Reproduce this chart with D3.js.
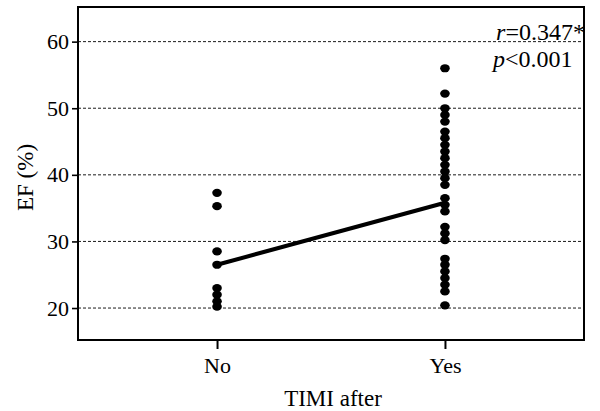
<!DOCTYPE html>
<html>
<head>
<meta charset="utf-8">
<script src="https://cdn.jsdelivr.net/npm/d3@7"></script>
<style>
    body { margin: 0; background: #fff; }
    svg text { font-family: "Liberation Serif", "Times New Roman", serif; fill: #000; }
</style>
</head>
<body>
<div id="chart"></div>
<script>
// categories and values
const categories = ['No', 'Yes'];
const efNo = [37.3, 35.3, 28.5, 26.5, 23, 22, 21, 20.2];
const efYes = [56, 52.2, 50, 49, 48, 46.5, 45.5, 44.5, 43.5, 42.5, 41.5, 40.5,
               39.5, 38.5, 36.5, 35.5, 34.5, 32.2, 31.2, 30.2,
               27.4, 26.5, 25.5, 24.5, 23.5, 22.5, 20.4];
const fitLine = [26.5, 35.8];          // regression line at No / Yes
const yTicks = [20, 30, 40, 50, 60];
const yDomain = [15.2, 65.2];
const statsText = { r: '0.347*', p: '<0.001' };

(function() {
    'use strict';

    const width = 600, height = 411;
    const left = 78, right = 584, top = 7, bottom = 340;
    const font = '"Liberation Serif", "Times New Roman", serif';

    const svg = d3.select('#chart').append('svg')
        .attr('width', width)
        .attr('height', height);

    const x = d3.scalePoint().domain(categories).range([left, right]).padding(0.61);
    const y = d3.scaleLinear().domain(yDomain).range([bottom, top]);

    // dashed grid
    svg.append('g')
        .selectAll('line')
        .data(yTicks)
        .enter()
        .append('line')
        .attr('x1', left).attr('x2', right)
        .attr('y1', d => y(d)).attr('y2', d => y(d))
        .attr('stroke', '#000')
        .attr('stroke-width', 0.9)
        .attr('stroke-dasharray', '3,2');

    // frame
    svg.append('rect')
        .attr('x', left).attr('y', top)
        .attr('width', right - left).attr('height', bottom - top)
        .attr('fill', 'none')
        .attr('stroke', '#000')
        .attr('stroke-width', 2);

    // y axis
    const yAxis = svg.append('g')
        .attr('transform', `translate(${left},0)`)
        .call(d3.axisLeft(y).tickValues(yTicks).tickSize(6).tickPadding(3));
    yAxis.attr('font-family', font);
    yAxis.select('.domain').remove();
    yAxis.selectAll('line').attr('stroke-width', 1.6);
    yAxis.selectAll('text').style('font-size', '22px');

    // x axis
    const xAxis = svg.append('g')
        .attr('transform', `translate(0,${bottom})`)
        .call(d3.axisBottom(x).tickSize(9).tickPadding(8));
    xAxis.attr('font-family', font);
    xAxis.select('.domain').remove();
    xAxis.selectAll('line').attr('stroke-width', 2);
    xAxis.selectAll('text').style('font-size', '22px');

    // axis titles
    svg.append('text')
        .attr('x', (left + right) / 2 + 2)
        .attr('y', 406)
        .attr('text-anchor', 'middle')
        .style('font-size', '23px')
        .text('TIMI after');

    svg.append('text')
        .attr('transform', `translate(33,${(top + bottom) / 2 + 4}) rotate(-90)`)
        .attr('text-anchor', 'middle')
        .style('font-size', '23px')
        .text('EF (%)');

    // regression line
    svg.append('line')
        .attr('x1', x('No')).attr('y1', y(fitLine[0]))
        .attr('x2', x('Yes')).attr('y2', y(fitLine[1]))
        .attr('stroke', '#000')
        .attr('stroke-width', 4);

    // points
    const points = efNo.map(v => ({ cat: 'No', v }))
        .concat(efYes.map(v => ({ cat: 'Yes', v })));

    svg.append('g')
        .selectAll('ellipse')
        .data(points)
        .enter()
        .append('ellipse')
        .attr('cx', d => x(d.cat))
        .attr('cy', d => y(d.v))
        .attr('rx', 4.8)
        .attr('ry', 4.1)
        .attr('fill', '#000');

    // stats annotation
    const rText = svg.append('text')
        .attr('x', right + 1).attr('y', 40)
        .attr('text-anchor', 'end')
        .style('font-size', '24px');
    rText.append('tspan').style('font-style', 'italic').text('r');
    rText.append('tspan').text('=' + statsText.r);

    const pText = svg.append('text')
        .attr('x', 493).attr('y', 67)
        .style('font-size', '24px');
    pText.append('tspan').style('font-style', 'italic').text('p');
    pText.append('tspan').text(statsText.p);
})();
</script>
</body>
</html>
